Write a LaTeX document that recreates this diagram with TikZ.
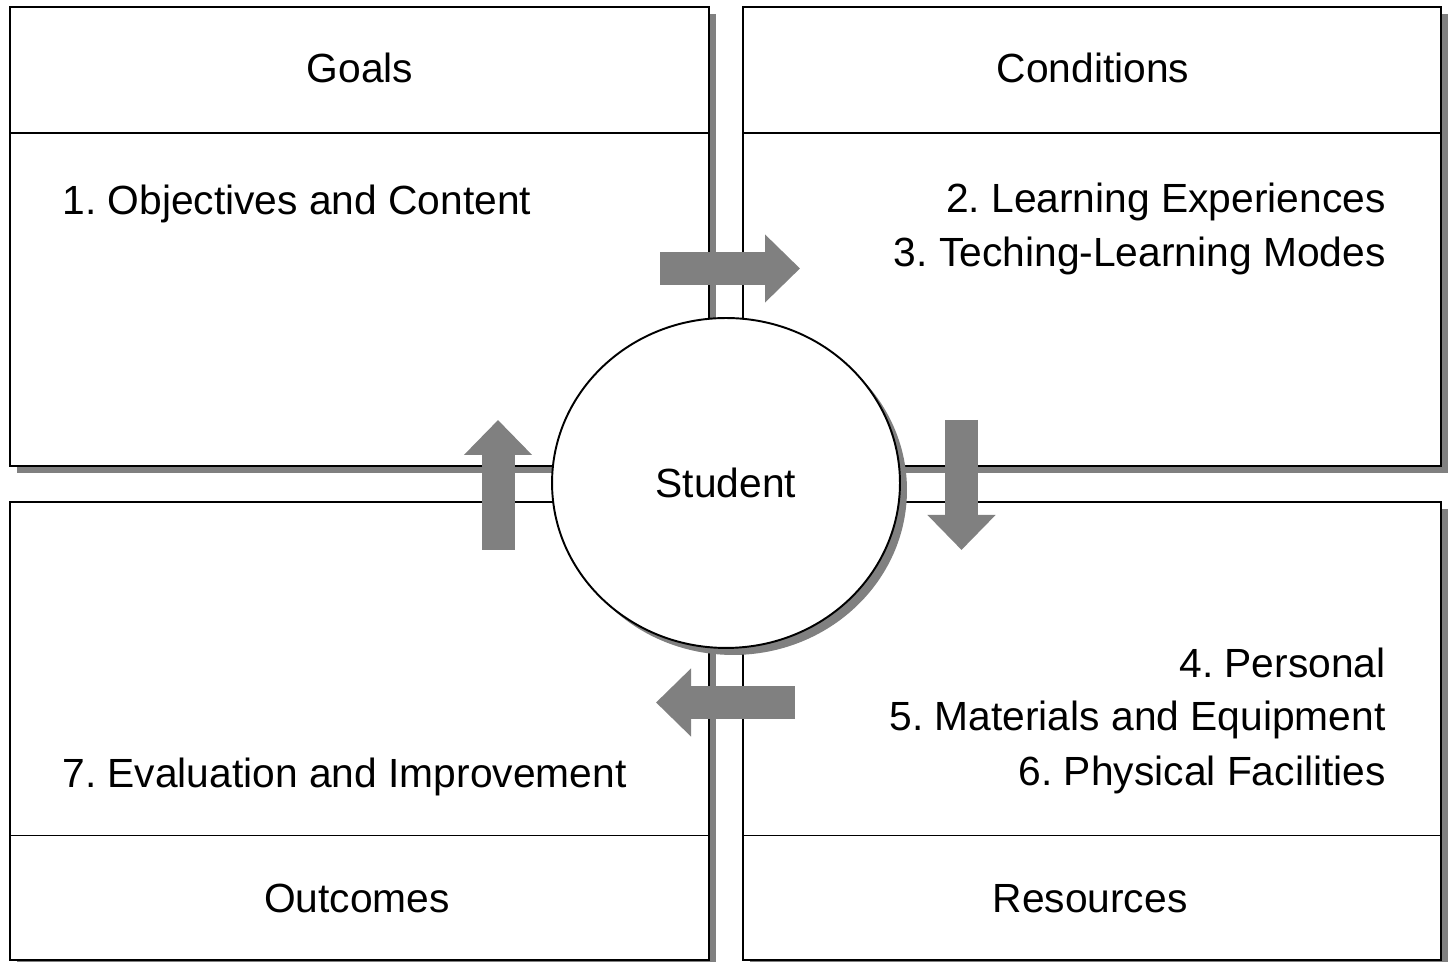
\documentclass[tikz,border=0pt]{standalone}
\usepackage{fontspec}
\setmainfont{Liberation Sans}
\usepackage{tikz}
\usetikzlibrary{shadows,shapes.geometric,arrows.meta}
\frenchspacing

\tikzset{
	box/.style={draw, line width=1.1pt, fill=white, inner sep=0pt, outer sep=0pt,
		minimum width=13.98cm, minimum height=9.18cm,
		drop shadow={shadow xshift=0.14cm, shadow yshift=-0.14cm, fill=gray, opacity=1}},
	txt/.style={font=\fontsize{23.2}{28}\selectfont, inner sep=0pt},
	flow/.style={line width=0.66cm, draw=gray, line cap=butt,
		-{Triangle[length=0.7cm, width=1.32cm]}}
}

\begin{document}
\begin{tikzpicture}[x=0.02cm, y=0.02cm]
	\useasboundingbox (0,0) rectangle (1449,962);
			%four boxes
			\node[box] (goals) at (359.5,725.5) {};
			\node[box] (cond) at (1092,725.5) {};
			\node[box] (outc) at (359.5,231) {};
			\node[box] (res) at (1092,231) {};
			\draw[line width=1.1pt] ([yshift=-2.52cm]goals.north west) -- ([yshift=-2.52cm]goals.north east);
			\draw[line width=1.1pt] ([yshift=-2.52cm]cond.north west) -- ([yshift=-2.52cm]cond.north east);
			\draw[line width=1.1pt] ([yshift=2.5cm]outc.south west) -- ([yshift=2.5cm]outc.south east);
			\draw[line width=1.1pt] ([yshift=2.5cm]res.south west) -- ([yshift=2.5cm]res.south east);
			\node[txt, anchor=base] (tgoals) at (360,879) {Goals};
			\node[txt, anchor=base] (tcond) at (1093,879) {Conditions};
			\node[txt, anchor=base] (toutc) at (357,49) {Outcomes};
			\node[txt, anchor=base] (tres) at (1090,49) {Resources};
			\node[txt, anchor=base west] (i1) at (62,747) {1. Objectives and Content};
			\node[txt, anchor=base east] (i2) at (1386,749) {2. Learning Experiences};
			\node[txt, anchor=base east] (i3) at (1386,695) {3. Teching-Learning Modes};
			\node[txt, anchor=base east] (i4) at (1386,284) {4. Personal};
			\node[txt, anchor=base east] (i5) at (1386,231) {5. Materials and Equipment};
			\node[txt, anchor=base east] (i6) at (1386,176) {6. Physical Facilities};
			\node[txt, anchor=base west] (i7) at (62,174) {7. Evaluation and Improvement};
			%centre
			\node[ellipse, draw, line width=1.1pt, fill=white, inner sep=0pt,
				minimum width=6.96cm, minimum height=6.6cm, txt,
				drop shadow={shadow xshift=0.14cm, shadow yshift=-0.14cm, fill=gray, opacity=1}] (stud) at (726,479) {Student};
			%arrows
			\coordinate (a1) at (660,693.5);
			\coordinate (b1) at (800,693.5);
			\coordinate (a2) at (961.5,542);
			\coordinate (b2) at (961.5,412);
			\coordinate (a3) at (795,259.5);
			\coordinate (b3) at (656,259.5);
			\coordinate (a4) at (498,412);
			\coordinate (b4) at (498,542);
			\draw[flow] (a1) -- (b1);
			\draw[flow] (a2) -- (b2);
			\draw[flow] (a3) -- (b3);
			\draw[flow] (a4) -- (b4);
	\end{tikzpicture}
\end{document}
